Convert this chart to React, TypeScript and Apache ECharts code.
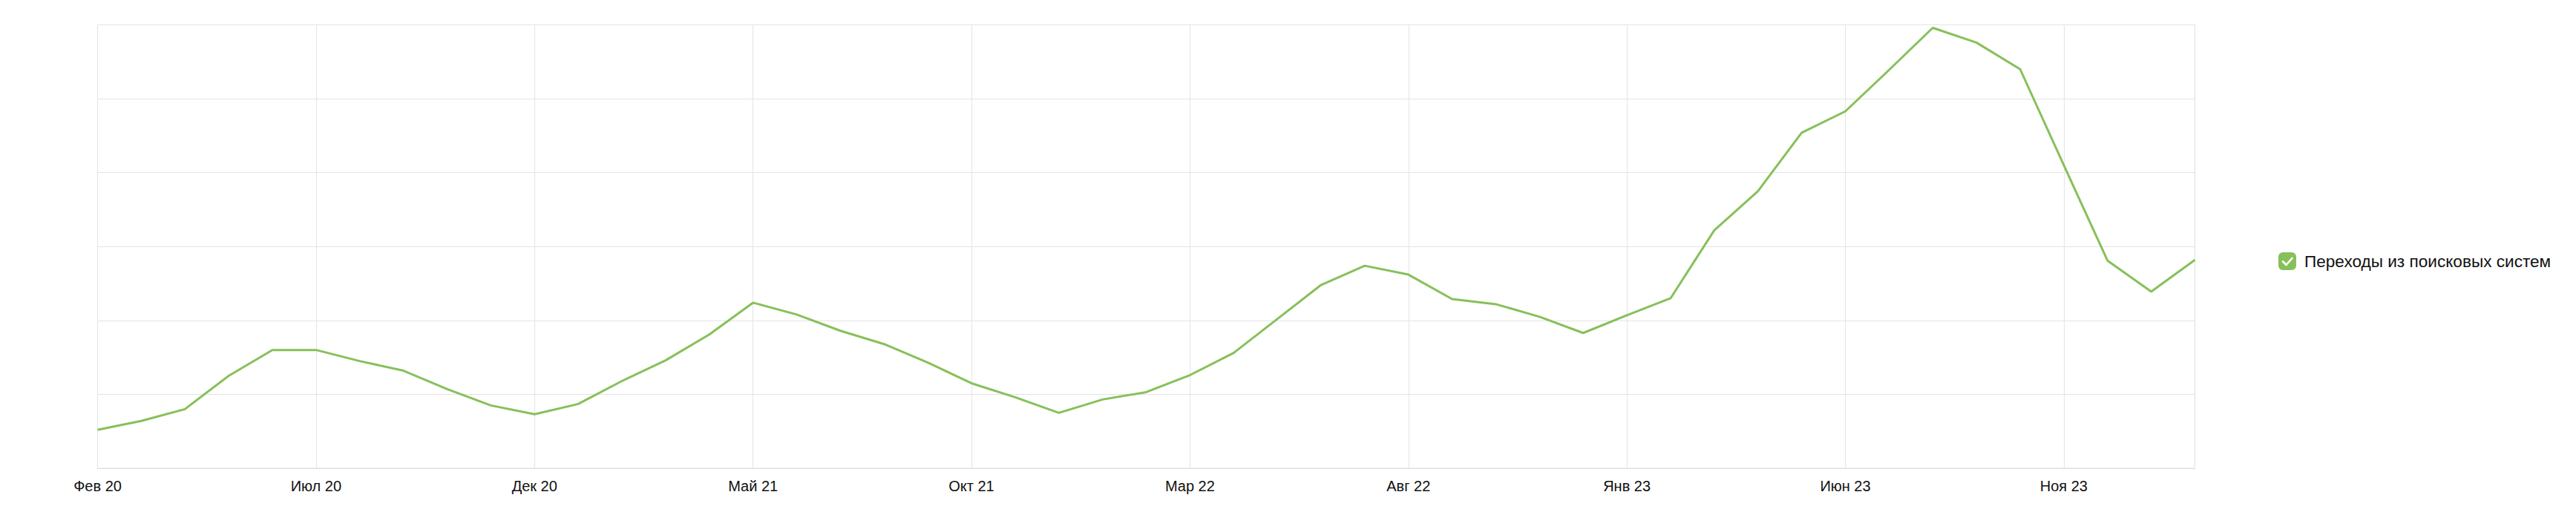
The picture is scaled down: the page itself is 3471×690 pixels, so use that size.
import React, { useEffect, useRef } from "react";
import * as echarts from "echarts";

const categories: string[] = [
  "Фев 20", "Мар 20", "Апр 20", "Май 20", "Июн 20", "Июл 20", "Авг 20", "Сен 20", "Окт 20", "Ноя 20", "Дек 20",
  "Янв 21", "Фев 21", "Мар 21", "Апр 21", "Май 21", "Июн 21", "Июл 21", "Авг 21", "Сен 21", "Окт 21", "Ноя 21", "Дек 21",
  "Янв 22", "Фев 22", "Мар 22", "Апр 22", "Май 22", "Июн 22", "Июл 22", "Авг 22", "Сен 22", "Окт 22", "Ноя 22", "Дек 22",
  "Янв 23", "Фев 23", "Мар 23", "Апр 23", "Май 23", "Июн 23", "Июл 23", "Авг 23", "Сен 23", "Окт 23", "Ноя 23", "Дек 23",
  "Янв 24", "Фев 24",
];

const searchVisits: number[] = [
  0.52, 0.64, 0.80, 1.25, 1.60, 1.60, 1.45, 1.32, 1.07, 0.85, 0.73,
  0.87, 1.18, 1.46, 1.81, 2.24, 2.08, 1.86, 1.68, 1.43, 1.15, 0.96, 0.75,
  0.93, 1.03, 1.26, 1.56, 2.02, 2.48, 2.74, 2.62, 2.29, 2.22, 2.05, 1.83,
  2.07, 2.30, 3.22, 3.75, 4.54, 4.83, 5.39, 5.96, 5.76, 5.40, 4.10, 2.81,
  2.39, 2.82,
];

const seriesName = "Переходы из поисковых систем";
const GREEN = "#87C05A";
const FONT = "'Liberation Sans', Arial, sans-serif";

export default function App() {
  const ref = useRef<HTMLDivElement>(null);
  useEffect(() => {
    if (!ref.current) return;
    const chart = echarts.init(ref.current, undefined, { renderer: "svg" });
    const legLeft = 3062;
    const legTop = 332;
    const icon = 24;
    chart.setOption({
      animation: false,
      textStyle: { fontFamily: FONT },
      grid: {
        left: 123.5,
        right: 505.5,
        top: 25.5,
        bottom: 51,
        show: true,
        borderColor: "#e0e0e0",
        borderWidth: 1,
        containLabel: false,
      },
      legend: {
        left: legLeft,
        top: legTop,
        padding: 0,
        itemWidth: icon,
        itemHeight: icon,
        itemGap: 10,
        icon: "roundRect",
        textStyle: { fontSize: 22.6, color: "#111", fontFamily: FONT, padding: [0, 0, 0, 6] },
        data: [{ name: seriesName, itemStyle: { color: GREEN } }],
      },
      graphic: [
        {
          type: "polyline",
          silent: true,
          z: 100,
          shape: {
            points: [
              [legLeft + 6, legTop + 12.5],
              [legLeft + 10.5, legTop + 17],
              [legLeft + 18.5, legTop + 8],
            ],
          },
          style: { stroke: "#fff", lineWidth: 2.6, fill: "none", lineCap: "round", lineJoin: "round" },
        },
      ],
      xAxis: {
        type: "category",
        boundaryGap: false,
        data: categories,
        axisLine: { show: true, lineStyle: { color: "#e0e0e0", width: 1 } },
        axisTick: { show: false },
        axisLabel: {
          interval: 4,
          fontSize: 20,
          color: "#111",
          margin: 14,
          fontFamily: FONT,
        },
        splitLine: { show: true, interval: 4, lineStyle: { color: "#e4e4e4", width: 1 } },
      },
      yAxis: {
        type: "value",
        min: 0,
        max: 6,
        interval: 1,
        axisLabel: { show: false },
        axisLine: { show: false },
        axisTick: { show: false },
        splitLine: { show: true, lineStyle: { color: "#e4e4e4", width: 1 } },
      },
      series: [
        {
          name: seriesName,
          type: "line",
          data: searchVisits,
          symbol: "none",
          lineStyle: { color: GREEN, width: 3 },
          itemStyle: { color: GREEN },
        },
      ],
    });
    return () => chart.dispose();
  }, []);
  return <div ref={ref} style={{ width: 3455, height: 674 }} />;
}
